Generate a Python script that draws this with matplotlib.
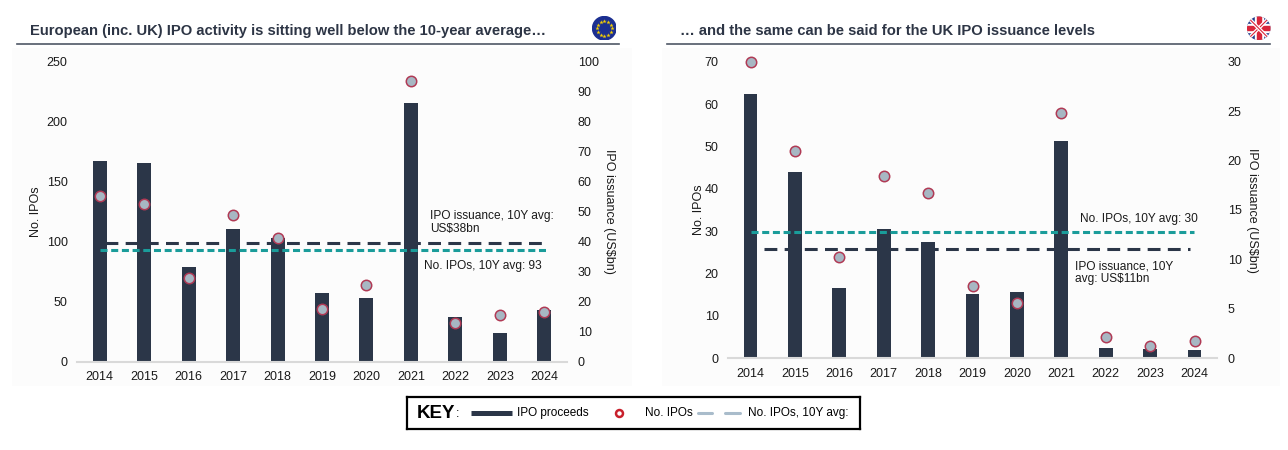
"""
IPO activity: Europe (inc. UK) vs UK, 2014-2024
bars = IPO proceeds (US$bn, right axis), dots = No. IPOs (left axis)
"""
import matplotlib
matplotlib.use("Agg")
import matplotlib.pyplot as plt
import numpy as np
from matplotlib.lines import Line2D
from matplotlib.patches import Circle, Rectangle

plt.rcParams["font.family"] = ["Liberation Sans", "DejaVu Sans"]

# ---- data ---------------------------------------------------------------
YEARS = [str(y) for y in range(2014, 2025)]

EU_PROCEEDS = [66.8, 66.1, 31.6, 44.2, 41.2, 22.9, 21.3, 86.1, 14.8, 9.5, 17.2]
EU_IPOS = [138, 131, 70, 122, 103, 44, 64, 234, 32, 39, 41]
EU_AVG_IPOS = 93
EU_AVG_PROCEEDS = 39.5

UK_PROCEEDS = [26.7, 18.8, 7.1, 13.1, 11.8, 6.5, 6.7, 22.0, 1.0, 0.9, 0.8]
UK_IPOS = [70, 49, 24, 43, 39, 17, 13, 58, 5, 3, 4]
UK_AVG_IPOS = 29.7
UK_AVG_PROCEEDS = 11.1

# 颜色
BAR_C = "#2b3648"
DOT_FACE = "#a7b7c3"
DOT_EDGE = "#b03a55"
TEAL = "#1a9c9a"
TITLE_C = "#2d3545"
RULE_C = "#4f5866"
LEG_DASH = "#a9bccb"
TXT_C = "#1a1a1a"

W, H = 1288, 450
fig = plt.figure(figsize=(W / 100, H / 100), dpi=100)
fig.patch.set_facecolor("white")


def box(x0, y0, x1, y1):
    # image pixel box -> figure fraction rect
    return [x0 / W, 1 - y1 / H, (x1 - x0) / W, (y1 - y0) / H]


def draw_panel(rect, proceeds, ipos, avg_ipos, avg_proc, ipo_max, ipo_step,
               proc_max, proc_step, ipo_span, proc_span, notes, left_pad):
    ax = fig.add_axes(rect)          # proceeds, ticks on the right
    ax2 = ax.twinx()                 # No. IPOs, ticks on the left
    ax.patch.set_alpha(0)
    ax2.patch.set_alpha(0)

    x = np.arange(len(YEARS))
    ax.bar(x, proceeds, width=0.315, color=BAR_C, zorder=2)
    ax.plot(proc_span, [avg_proc, avg_proc], color=BAR_C, lw=2.2,
            linestyle=(0, (4.2, 2.4)), zorder=3)

    ax2.plot(ipo_span, [avg_ipos, avg_ipos], color=TEAL, lw=2.2,
             linestyle=(0, (2.3, 1.2)), zorder=3)
    ax2.plot(x, ipos, linestyle="none", marker="o", markersize=7.5,
             markerfacecolor=DOT_FACE, markeredgecolor=DOT_EDGE,
             markeredgewidth=1.1, zorder=4, clip_on=False)

    ax.set_xlim(-0.5, 10.5)
    ax.set_xticks(x)
    ax.set_xticklabels(YEARS)
    ax.set_ylim(0, proc_max)
    ax.set_yticks(np.arange(0, proc_max + 1, proc_step))
    ax2.set_ylim(0, ipo_max)
    ax2.set_yticks(np.arange(0, ipo_max + 1, ipo_step))

    ax.yaxis.tick_right()
    ax.yaxis.set_label_position("right")
    ax2.yaxis.tick_left()
    ax2.yaxis.set_label_position("left")

    for a in (ax, ax2):
        for s in a.spines.values():
            s.set_visible(False)
        a.tick_params(length=0, labelsize=9, labelcolor=TXT_C)
    ax.spines["bottom"].set_visible(True)
    ax.spines["bottom"].set_color("#d9d9d9")
    ax.spines["bottom"].set_linewidth(1.5)
    ax.tick_params(axis="x", pad=7)
    ax.tick_params(axis="y", pad=8)
    ax2.tick_params(axis="y", pad=7)

    ax.set_ylabel("IPO issuance (US$bn)", rotation=270, fontsize=9,
                  labelpad=12, color=TXT_C)
    ax2.set_ylabel("No. IPOs", fontsize=9, labelpad=left_pad, color=TXT_C)

    for tx, ty, txt in notes:
        ax2.text(tx, ty, txt, fontsize=8.6, color=TXT_C, va="center",
                 ha="left", linespacing=1.05, zorder=5)
    return ax, ax2


# faint chart panels
for x0, x1 in [(12, 632), (662, 1280)]:
    fig.add_artist(Rectangle((x0 / W, 1 - 386 / H), (x1 - x0) / W, (386 - 48) / H,
                             transform=fig.transFigure, facecolor="#fcfcfc",
                             edgecolor="none", zorder=0))

draw_panel(box(77.3, 61.7, 566.7, 361.7), EU_PROCEEDS, EU_IPOS,
           EU_AVG_IPOS, EU_AVG_PROCEEDS, 250, 50, 100, 10,
           [0, 10.03], [0.12, 10.08],
           [(7.42, 116, "IPO issuance, 10Y avg:\nUS$38bn"),
            (7.29, 80, "No. IPOs, 10Y avg: 93")], left_pad=3)

draw_panel(box(728.3, 61.7, 1216.7, 358.3), UK_PROCEEDS, UK_IPOS,
           UK_AVG_IPOS, UK_AVG_PROCEEDS, 70, 10, 30, 5,
           [0, 9.99], [0.31, 9.9],
           [(7.42, 32.9, "No. IPOs, 10Y avg: 30"),
            (7.31, 20.3, "IPO issuance, 10Y\navg: US$11bn")], left_pad=0)

# titles + rules
fig.text(29.5 / W, 1 - 35 / H, "European (inc. UK) IPO activity is sitting well below the 10-year average…",
         fontsize=10.6, fontweight="bold", color=TITLE_C, va="baseline")
fig.text(680.5 / W, 1 - 35 / H, "… and the same can be said for the UK IPO issuance levels",
         fontsize=10.6, fontweight="bold", color=TITLE_C, va="baseline")
for x0, x1 in [(16.7, 619), (666.7, 1270)]:
    fig.add_artist(Line2D([x0 / W, x1 / W], [1 - 43.5 / H] * 2, color=RULE_C, lw=1.2))

# EU flag
fa = fig.add_axes(box(592.3, 16.3, 616.3, 40.3))
fa.set_xlim(-1, 1)
fa.set_ylim(-1, 1)
fa.axis("off")
fa.add_patch(Circle((0, 0), 0.98, color="#1b2f91"))
ang = np.linspace(0, 2 * np.pi, 13)[:-1]
fa.plot(0.62 * np.cos(ang), 0.62 * np.sin(ang), linestyle="none", marker="*",
        markersize=3.2, color="#f5d000", markeredgewidth=0)

# UK flag
fu = fig.add_axes(box(1246.7, 16.3, 1270.7, 40.3))
fu.set_xlim(-1, 1)
fu.set_ylim(-1, 1)
fu.axis("off")
clip = Circle((0, 0), 0.98, transform=fu.transData)
bg = Rectangle((-1, -1), 2, 2, color="#233f8c")
fu.add_patch(bg)
bg.set_clip_path(clip)
for sx in (1, -1):
    l1, = fu.plot([-1, 1], [-sx, sx], color="white", lw=2.6)
    l2, = fu.plot([-1, 1], [-sx, sx], color="#d9253a", lw=0.8)
    l1.set_clip_path(clip)
    l2.set_clip_path(clip)
for hw, c in [(0.32, "white"), (0.18, "#d9253a")]:
    for p in (Rectangle((-1, -hw), 2, 2 * hw, color=c),
              Rectangle((-hw, -1), 2 * hw, 2, color=c)):
        fu.add_patch(p)
        p.set_clip_path(clip)

# KEY box
lg = fig.add_axes(box(406.7, 396.7, 860, 429.3))
lg.set_xlim(406.7, 860)
lg.set_ylim(429.3, 396.7)
lg.set_xticks([])
lg.set_yticks([])
for s in lg.spines.values():
    s.set_linewidth(1.6)
    s.set_color("black")
ly = 413.3
lg.text(417, ly + 0.5, "KEY", fontsize=13.5, fontweight="bold", va="center")
lg.text(456, ly + 1, ":", fontsize=9, va="center")
lg.plot([471, 512], [ly, ly], color=BAR_C, lw=3.6, solid_capstyle="butt")
lg.text(517, ly, "IPO proceeds", fontsize=8.5, va="center")
lg.plot([619], [ly], marker="o", markersize=5, markerfacecolor="white",
        markeredgecolor="#c8202c", markeredgewidth=1.8)
lg.text(645, ly, "No. IPOs", fontsize=8.5, va="center")
for d0, d1 in [(697.7, 712.3), (725, 740)]:
    lg.plot([d0, d1], [ly, ly], color=LEG_DASH, lw=2.2, solid_capstyle="round")
lg.text(747.7, ly, "No. IPOs, 10Y avg:", fontsize=8.5, va="center")

fig.savefig("out.png", dpi=100)
